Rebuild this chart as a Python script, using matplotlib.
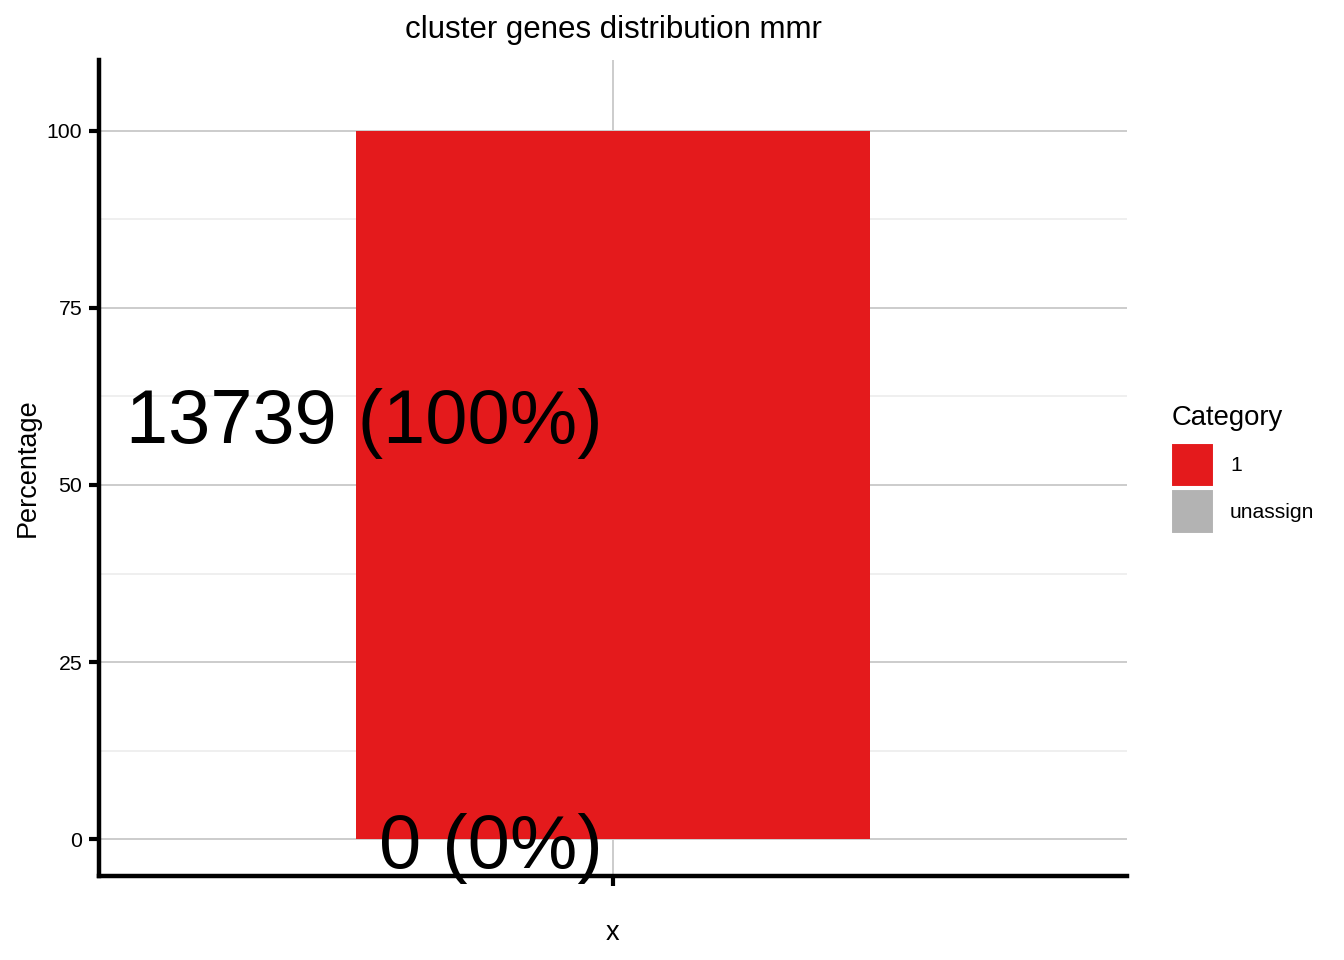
import matplotlib
matplotlib.use("Agg")
import matplotlib.pyplot as plt
from matplotlib.patches import Patch
from matplotlib.ticker import MultipleLocator
from matplotlib.transforms import offset_copy

plt.rcParams['font.family'] = ['Liberation Sans', 'DejaVu Sans']

title = "cluster genes distribution mmr"
categories = ["1", "unassign"]
counts = [13739, 0]
percentages = [100, 0]
colors = ["#E41A1C", "#B3B3B3"]
legend_title = "Category"
x_label = "x"
y_label = "Percentage"
y_ticks = [0, 25, 50, 75, 100]

fig = plt.figure(figsize=(13.44, 9.6), dpi=100)
ax = fig.add_axes([99/1344, 84/960, (1127-99)/1344, (876-60)/960])

# grid
ax.yaxis.set_major_locator(MultipleLocator(25))
ax.yaxis.set_minor_locator(MultipleLocator(12.5))
ax.grid(which='major', axis='y', color='#CCCCCC', lw=1.4, zorder=0)
ax.grid(which='minor', axis='y', color='#EBEBEB', lw=1.1, zorder=0)
ax.grid(which='major', axis='x', color='#CCCCCC', lw=1.4, zorder=0)
ax.set_axisbelow(True)

# stacked bars (first category on top in ggplot stacking)
bottom = 0.0
bars_info = []
for cat, pct, col in zip(reversed(categories), reversed(percentages), reversed(colors)):
    ax.bar([1], [pct], bottom=bottom, width=0.5, color=col, zorder=2)
    bars_info.append((cat, pct, bottom))
    bottom += pct

text_tr = offset_copy(ax.transData, fig=fig, x=0, y=-29, units='dots')
for cat, pct, b in bars_info:
    cnt = counts[categories.index(cat)]
    ax.text(0.99, b + pct * 0.6, f"{cnt} ({pct:g}%)", ha='right', va='baseline',
            fontsize=54.5, color='black', zorder=3, transform=text_tr)

ax.set_xlim(0.5, 1.5)
ax.set_ylim(-5.2, 110)
ax.set_xticks([1])
ax.set_xticklabels([""])
ax.set_yticks(y_ticks)
ax.tick_params(axis='both', which='major', length=7, width=3, color='black',
               labelsize=15.3, pad=5)
ax.tick_params(axis='y', which='minor', length=0)

for side in ['top', 'right']:
    ax.spines[side].set_visible(False)
for side in ['left', 'bottom']:
    ax.spines[side].set_linewidth(3.2)
    ax.spines[side].set_color('black')

ax.set_xlabel(x_label, fontsize=19.5, labelpad=19.5)
ax.set_ylabel(y_label, fontsize=19.5, labelpad=4.5)
ax.set_title(title, fontsize=22.5, pad=15.5)

# legend
fig.text(1172/1344, 1 - 418/960, legend_title, fontsize=19.8, ha='left', va='center')
handles = [Patch(facecolor=c, edgecolor='white', linewidth=1.5) for c in colors]
leg = fig.legend(handles, categories, loc='upper left',
                 bbox_to_anchor=(1171/1344, 1 - 443/960), frameon=False,
                 fontsize=15.2,
                 handlelength=2.05, handleheight=2.85, labelspacing=0.1,
                 handletextpad=0.75, borderaxespad=0, borderpad=0)

fig.savefig("out.png", dpi=100)
